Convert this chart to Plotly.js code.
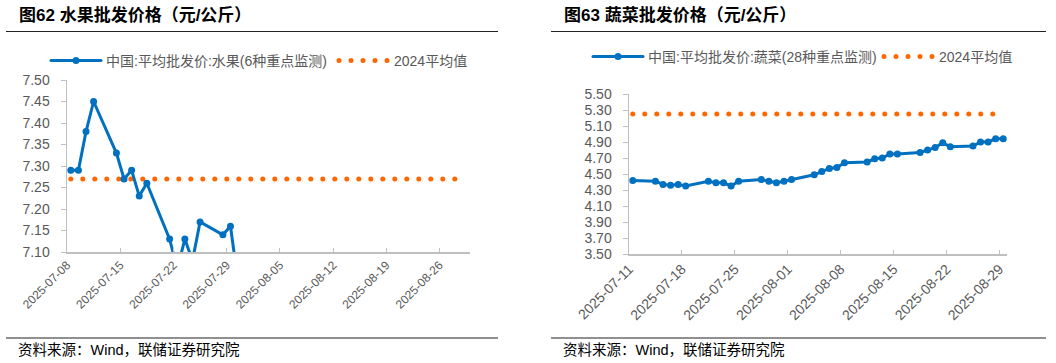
<!DOCTYPE html>
<html>
<head>
<meta charset="utf-8">
<script src="https://cdn.plot.ly/plotly-3.0.1.min.js"></script>
<style>
html,body{margin:0;padding:0;background:#fff;}
path.js-line{stroke-linecap:round;}
</style>
</head>
<body>
<div id="chart" style="width:1056px;height:363px;"></div>
<script>
// ---- data ----
const fruitDates = ['2025-07-08','2025-07-09','2025-07-10','2025-07-11','2025-07-14','2025-07-15','2025-07-16','2025-07-17','2025-07-18','2025-07-21','2025-07-22','2025-07-23','2025-07-24','2025-07-25','2025-07-28','2025-07-29','2025-07-30'];
const fruitPrice = [7.29,7.29,7.38,7.45,7.33,7.27,7.29,7.23,7.26,7.13,7.06,7.13,7.08,7.17,7.14,7.16,7.03];
const fruitAvgDates = ['2025-07-08','2025-08-29'];
const fruitAvg = [7.27,7.27];

const vegDates = ['2025-07-11','2025-07-14','2025-07-15','2025-07-16','2025-07-17','2025-07-18','2025-07-21','2025-07-22','2025-07-23','2025-07-24','2025-07-25','2025-07-28','2025-07-29','2025-07-30','2025-07-31','2025-08-01','2025-08-04','2025-08-05','2025-08-06','2025-08-07','2025-08-08','2025-08-11','2025-08-12','2025-08-13','2025-08-14','2025-08-15','2025-08-18','2025-08-19','2025-08-20','2025-08-21','2025-08-22','2025-08-25','2025-08-26','2025-08-27','2025-08-28','2025-08-29'];
const vegPrice = [4.42,4.41,4.37,4.36,4.37,4.35,4.41,4.39,4.39,4.35,4.41,4.43,4.41,4.39,4.41,4.43,4.49,4.53,4.57,4.58,4.64,4.65,4.69,4.70,4.75,4.75,4.77,4.80,4.83,4.89,4.84,4.85,4.90,4.90,4.94,4.94];
const vegAvgDates = ['2025-07-11','2025-08-29'];
const vegAvg = [5.25,5.25];

const fruitName = '中国:平均批发价:水果(6种重点监测)';
const vegName = '中国:平均批发价:蔬菜(28种重点监测)';
const avgName = '2024平均值';
const title1 = '图62 水果批发价格（元/公斤）';
const title2 = '图63 蔬菜批发价格（元/公斤）';
const sourceText = '资料来源：Wind，联储证券研究院';

// ---- styling ----
const W = 1056, H = 363;
const BLUE = '#0070C0', ORANGE = '#FF6600', GRAY = '#595959', AXIS = '#BFBFBF';
const FONT = 'Liberation Sans, Arial, Noto Sans CJK SC, sans-serif';
const px = v => v / W, py = v => 1 - v / H;
const DAY = 86400000;

const traces = [
  {x: fruitAvgDates, y: fruitAvg, type: 'scatter', mode: 'lines', name: avgName,
   xaxis: 'x', yaxis: 'y', legend: 'legend2', xperiod: DAY, xperiodalignment: 'middle',
   line: {color: ORANGE, width: 5, dash: '0px,12px'}},
  {x: fruitDates, y: fruitPrice, type: 'scatter', mode: 'lines+markers', name: fruitName,
   xaxis: 'x', yaxis: 'y', legend: 'legend', xperiod: DAY, xperiodalignment: 'middle',
   line: {color: BLUE, width: 3}, marker: {color: BLUE, size: 7}},
  {x: vegAvgDates, y: vegAvg, type: 'scatter', mode: 'lines', name: avgName,
   xaxis: 'x2', yaxis: 'y2', legend: 'legend4', xperiod: DAY, xperiodalignment: 'middle',
   line: {color: ORANGE, width: 5, dash: '0px,12px'}},
  {x: vegDates, y: vegPrice, type: 'scatter', mode: 'lines+markers', name: vegName,
   xaxis: 'x2', yaxis: 'y2', legend: 'legend3', xperiod: DAY, xperiodalignment: 'middle',
   line: {color: BLUE, width: 3}, marker: {color: BLUE, size: 7}}
];

function xAxis(domain, start, end, anchor, fs) {
  return {type: 'date', domain: domain, anchor: anchor, range: [start, end],
    tick0: start, dtick: 7 * DAY, tickformat: '%Y-%m-%d', tickangle: -45,
    ticks: 'inside', ticklen: 4, tickcolor: AXIS, showline: true, linecolor: AXIS, linewidth: 1.5,
    showgrid: false, zeroline: false, tickfont: {family: FONT, size: fs, color: GRAY}};
}
function yAxis(domain, r, dt, anchor, standoff) {
  return {domain: domain, anchor: anchor, range: r, tick0: r[0], dtick: dt, tickformat: '.2f',
    ticks: 'outside', ticklen: 5, tickcolor: AXIS, showline: true, linecolor: AXIS, linewidth: 1.5,
    ticklabelstandoff: standoff,
    showgrid: false, zeroline: false, tickfont: {family: FONT, size: 14, color: GRAY}};
}
function legendAt(x, y) {
  return {x: px(x), y: py(y), xanchor: 'left', yanchor: 'middle', orientation: 'h',
    bgcolor: 'rgba(0,0,0,0)', borderwidth: 0, itemwidth: 50,
    font: {family: FONT, size: 14, color: GRAY}};
}

const layout = {
  width: W, height: H, margin: {l: 0, r: 0, t: 0, b: 0},
  paper_bgcolor: '#fff', plot_bgcolor: 'rgba(0,0,0,0)',
  showlegend: true,
  xaxis: xAxis([px(67), px(470)], '2025-07-08', '2025-08-30', 'y', 12),
  yaxis: yAxis([py(252), py(80)], [7.10, 7.50], 0.05, 'x', 8),
  xaxis2: xAxis([px(629), px(1007)], '2025-07-11', '2025-08-30', 'y2', 14),
  yaxis2: yAxis([py(254), py(94)], [3.50, 5.50], 0.2, 'x2', 8),
  legend: legendAt(46, 61),
  legend2: legendAt(334, 61),
  legend3: legendAt(588, 57),
  legend4: legendAt(879, 57),
  shapes: [
    {type: 'line', xref: 'paper', yref: 'paper', x0: px(6), x1: px(498), y0: py(31.5), y1: py(31.5), line: {color: '#222', width: 1.2}},
    {type: 'line', xref: 'paper', yref: 'paper', x0: px(551), x1: px(1046), y0: py(31.5), y1: py(31.5), line: {color: '#222', width: 1.2}},
    {type: 'line', xref: 'paper', yref: 'paper', x0: px(6), x1: px(498), y0: py(338), y1: py(338), line: {color: '#222', width: 1.2}},
    {type: 'line', xref: 'paper', yref: 'paper', x0: px(551), x1: px(1046), y0: py(338), y1: py(338), line: {color: '#222', width: 1.2}}
  ],
  annotations: [
    {text: title1, xref: 'paper', yref: 'paper', x: px(17), y: py(15), xanchor: 'left', yanchor: 'middle', showarrow: false,
     font: {family: FONT, size: 17, color: '#000', weight: 700}},
    {text: title2, xref: 'paper', yref: 'paper', x: px(562), y: py(15), xanchor: 'left', yanchor: 'middle', showarrow: false,
     font: {family: FONT, size: 17, color: '#000', weight: 700}},
    {text: sourceText, xref: 'paper', yref: 'paper', x: px(16), y: py(350), xanchor: 'left', yanchor: 'middle', showarrow: false,
     font: {family: FONT, size: 14.5, color: '#000'}},
    {text: sourceText, xref: 'paper', yref: 'paper', x: px(561), y: py(350), xanchor: 'left', yanchor: 'middle', showarrow: false,
     font: {family: FONT, size: 14.5, color: '#000'}}
  ]
};

Plotly.newPlot('chart', traces, layout, {displayModeBar: false, staticPlot: true});
</script>
</body>
</html>
